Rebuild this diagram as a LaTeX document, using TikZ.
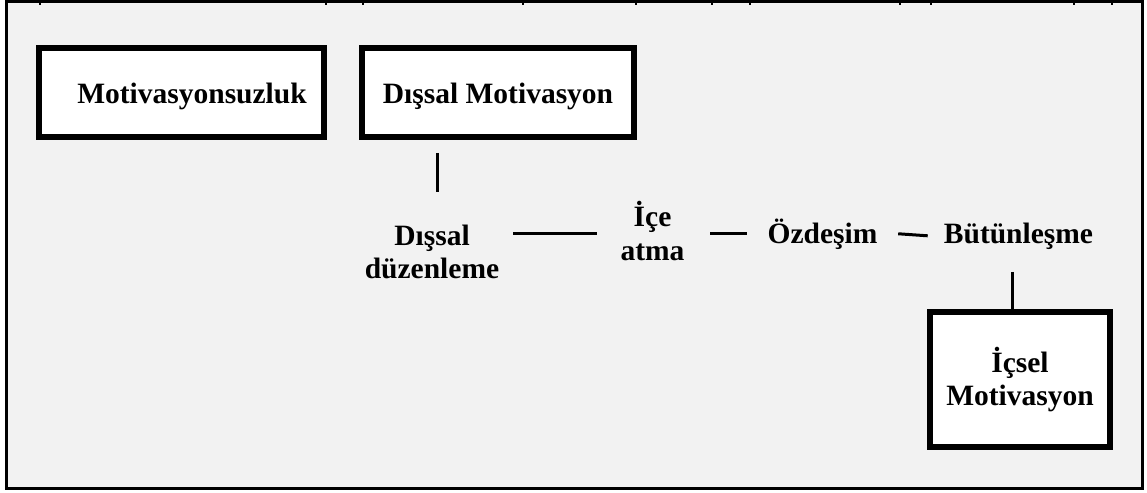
\documentclass[tikz,border=0pt]{standalone}
\usepackage{fontspec}
\setmainfont{Liberation Serif}
\usetikzlibrary{calc}
\definecolor{bg}{HTML}{F2F2F2}
\begin{document}
\begin{tikzpicture}[x=1pt,y=-1pt,
  lbl/.style={font=\fontsize{29.5}{33}\selectfont\bfseries, inner sep=0pt, align=center},
  box/.style={draw, line width=5.8pt, fill=white, font=\fontsize{29.5}{33}\selectfont\bfseries, inner sep=0pt},
  conn/.style={line width=3pt},
  tick/.style={line width=1.5pt}]
\useasboundingbox (0,0) rectangle (1147,492);
\draw[line width=3pt, fill=bg] (6,2) rectangle (1142,488);
\foreach \x in {40,326,363,523,636,712,750,900,931,1074,1112}
  \draw[tick] (\x,3.5) -- (\x,5.5);
% boxes
\node[box, minimum width=285pt, minimum height=89pt, text height=27pt, text depth=4pt] (b1) at (181.5,92.5) {\hspace*{21pt}Motivasyonsuzluk};
\node[box, minimum width=272pt, minimum height=89pt, text height=27pt, text depth=4pt] (b2) at (498,92.5) {Dışsal Motivasyon};
\node[box, minimum width=180pt, minimum height=135pt, align=center] (b3) at (1020,379.5) {İçsel\\Motivasyon};
% stage labels
\node[lbl] (dd) at (432,251.5) {Dışsal\\düzenleme};
\node[lbl, font=\fontsize{29.5}{34}\selectfont\bfseries] (ic) at (652.5,231) {İçe\\atma};
\node[lbl, anchor=base] (oz) at (822.5,243) {Özdeşim};
\node[lbl, anchor=base] (bu) at (1018.5,243) {Bütünleşme};
% connectors
\draw[conn] ($(b2.south)+(-61,13)$) -- ($(dd.north)+(5,-32)$);
\draw[conn] ($(dd.east|-oz.center)+(14,0)$) -- ($(ic.west|-oz.center)+(-23.5,0)$);
\draw[conn] ($(ic.east|-oz.center)+(25.5,0)$) -- ($(oz.west)+(-20.6,0)$ |- oz.center);
\draw[conn] ($(oz.east)+(20.6,0)$ |- oz.center) -- ($(bu.west)+(-16,0)$ |- oz.center);
\draw[conn] ($(b3.north|-bu.south)+(-8,22.7)$) -- ($(b3.north)+(-8,0)$);
\end{tikzpicture}
\end{document}
